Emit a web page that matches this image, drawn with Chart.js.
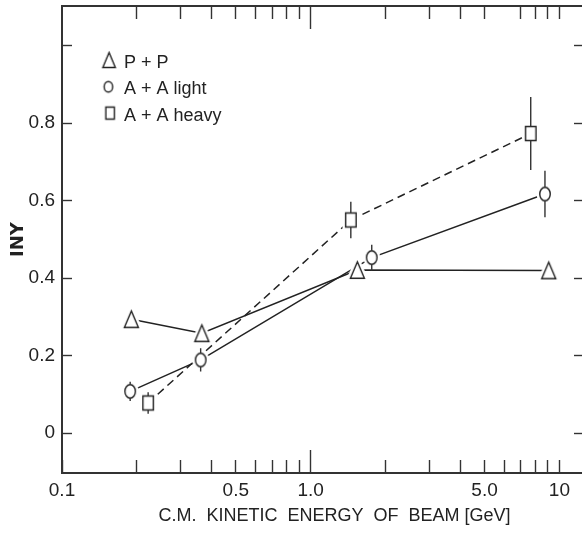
<!DOCTYPE html>
<html>
<head>
<meta charset="utf-8">
<script src="https://cdn.jsdelivr.net/npm/chart.js@4.4.1/dist/chart.umd.min.js"></script>
<style>
html,body{margin:0;padding:0;background:#fff;}
#wrap{width:582px;height:539px;position:relative;}
</style>
</head>
<body>
<div id="wrap"><canvas id="c" width="582" height="539"></canvas></div>
<script>
// ---- data ----
const seriesLabels = ['P + P', 'A + A light', 'A + A heavy'];

const ppEnergy = [0.19, 0.365, 1.54, 9.06];
const ppValue  = [0.294, 0.258, 0.421, 0.42];

const lightEnergy = [0.188, 0.361, 1.76, 8.75];
const lightValue  = [0.108, 0.189, 0.453, 0.617];
const lightError  = [0.025, 0.030, 0.033, 0.060];

const heavyEnergy = [0.222, 1.45, 7.67];
const heavyValue  = [0.078, 0.550, 0.773];
const heavyError  = [0.028, 0.047, 0.094];

const xTickValues = [0.1, 0.2, 0.3, 0.4, 0.5, 0.6, 0.7, 0.8, 0.9, 1, 2, 3, 4, 5, 6, 7, 8, 9, 10];
const xTickLabels = ['0.1', '', '', '', '0.5', '', '', '', '', '1.0', '', '', '', '5.0', '', '', '', '', '10'];
const topTickValues = [0.2, 0.3, 0.4, 0.5, 0.6, 0.7, 0.8, 0.9, 1, 2, 3, 4, 5, 7, 8, 9, 10];
const yTickValues = [0, 0.2, 0.4, 0.6, 0.8, 1.0];
const yTickLabels = ['0', '0.2', '0.4', '0.6', '0.8', ''];

const xTitle = '     C.M.  KINETIC  ENERGY  OF  BEAM [GeV]';
const yTitle = 'INY';

const X_MIN = 0.1, X_MAX = 12.33;
const Y_MIN = -0.1026, Y_MAX = 1.102;

// ---- styling helpers ----
const INK = '#222';
const AXIS = '#333';
Chart.defaults.font.family = "'Liberation Sans', Arial, sans-serif";
Chart.defaults.color = INK;

function makeMarker(shape, w, h, o) {
  o = o || {};
  const halo = o.halo || 0, dx = o.dx || 0, dy = o.dy || 0;
  const cw = o.cw || Math.ceil(w + 2 * halo + 6);
  const ch = o.ch || Math.ceil(h + 2 * halo + 6);
  const c = document.createElement('canvas');
  c.width = cw; c.height = ch;
  const g = c.getContext('2d');
  const cx = cw / 2 + dx, cy = ch / 2 + dy;
  const path = () => {
    g.beginPath();
    if (shape === 'triangle') {
      g.moveTo(cx, cy - h / 2);
      g.lineTo(cx + w / 2, cy + h / 2);
      g.lineTo(cx - w / 2, cy + h / 2);
      g.closePath();
    } else if (shape === 'circle') {
      g.ellipse(cx, cy, w / 2, h / 2, 0, 0, Math.PI * 2);
    } else {
      g.rect(cx - w / 2, cy - h / 2, w, h);
    }
  };
  if (halo) {
    path();
    g.fillStyle = '#fff'; g.fill();
    g.lineJoin = 'round';
    g.strokeStyle = '#fff'; g.lineWidth = 1.4 + 2 * halo; g.stroke();
  }
  path();
  g.fillStyle = '#fff'; g.fill();
  g.lineJoin = 'miter';
  g.strokeStyle = INK; g.lineWidth = 1.4; g.stroke();
  return c;
}

const triMarker = makeMarker('triangle', 14, 16.5, {halo: 2.5});
const circMarker = makeMarker('circle', 10.5, 13.5, {halo: 2.5});
const sqMarker = makeMarker('rect', 10.5, 14, {halo: 2.5});

const legendMarkers = [
  makeMarker('triangle', 12.5, 15, {dx: 16.4, dy: -3, cw: 54, ch: 28}),
  makeMarker('circle', 8.5, 10.5, {dx: 15.7, dy: -2.5, cw: 54, ch: 28}),
  makeMarker('rect', 8.5, 12, {dx: 17.4, dy: -2.5, cw: 54, ch: 28})
];

const pts = (xs, ys) => xs.map((v, i) => ({x: v, y: ys[i]}));

// error bars drawn through the scales
const errorBars = {
  id: 'errorBars',
  afterDatasetsDraw(chart) {
    const {ctx} = chart;
    const xs = chart.scales.x, ys = chart.scales.y;
    ctx.save();
    ctx.strokeStyle = AXIS;
    ctx.lineWidth = 1.4;
    chart.data.datasets.forEach((ds) => {
      if (!ds.errors) return;
      const half = ds.markerHalfHeight;
      ds.data.forEach((p, j) => {
        const e = ds.errors[j];
        const px = xs.getPixelForValue(p.x);
        const py = ys.getPixelForValue(p.y);
        const top = ys.getPixelForValue(p.y + e);
        const bot = ys.getPixelForValue(p.y - e);
        ctx.beginPath();
        if (top < py - half) { ctx.moveTo(px, top); ctx.lineTo(px, py - half); }
        if (bot > py + half) { ctx.moveTo(px, py + half); ctx.lineTo(px, bot); }
        ctx.stroke();
      });
    });
    ctx.restore();
  }
};

const labelFor = (vals, labels, v) => {
  const i = vals.findIndex(t => Math.abs(t - v) < 1e-9);
  return i >= 0 ? labels[i] : '';
};

const noPad = (s) => { s.paddingLeft = 0; s.paddingRight = 0; s.paddingTop = 0; s.paddingBottom = 0; };

new Chart(document.getElementById('c'), {
  type: 'line',
  data: {
    datasets: [
      {
        label: seriesLabels[0],
        data: pts(ppEnergy, ppValue),
        borderColor: INK, borderWidth: 1.5, tension: 0, fill: false,
        pointStyle: triMarker, pointRadius: 6, pointHoverRadius: 6
      },
      {
        label: seriesLabels[1],
        data: pts(lightEnergy, lightValue),
        errors: lightError, markerHalfHeight: 6.75,
        borderColor: INK, borderWidth: 1.5, tension: 0, fill: false,
        pointStyle: circMarker, pointRadius: 6, pointHoverRadius: 6
      },
      {
        label: seriesLabels[2],
        data: pts(heavyEnergy, heavyValue),
        errors: heavyError, markerHalfHeight: 7,
        borderColor: INK, borderWidth: 1.5, borderDash: [8, 5], tension: 0, fill: false,
        pointStyle: sqMarker, pointRadius: 6, pointHoverRadius: 6
      }
    ]
  },
  options: {
    responsive: false,
    animation: false,
    devicePixelRatio: 1,
    events: [],
    layout: {autoPadding: false, padding: {top: 6, right: 0, bottom: 0, left: 0}},
    scales: {
      x: {
        type: 'logarithmic', position: 'bottom', min: X_MIN, max: X_MAX,
        afterBuildTicks: (s) => { s.ticks = xTickValues.map(v => ({value: v})); },
        afterFit: (s) => { s.height = 66; noPad(s); },
        ticks: {
          autoSkip: false, maxRotation: 0, minRotation: 0, padding: 29.6,
          color: INK, font: {size: 19},
          callback: (v) => labelFor(xTickValues, xTickLabels, v)
        },
        grid: {
          drawOnChartArea: false, drawTicks: true, tickLength: -23,
          tickWidth: 1.4, tickColor: AXIS,
          tickBorderDash: (ctx) => (ctx.tick && Math.abs(ctx.tick.value - 1) < 1e-9) ? [] : [14, 100]
        },
        border: {display: true, color: AXIS, width: 2},
        title: {display: true, text: xTitle, color: INK, font: {size: 18}, padding: {top: 0, bottom: 12.2}}
      },
      xTop: {
        type: 'logarithmic', position: 'top', min: X_MIN, max: X_MAX,
        afterBuildTicks: (s) => { s.ticks = topTickValues.map(v => ({value: v})); },
        afterFit: (s) => { s.height = 0; noPad(s); },
        ticks: {display: false, autoSkip: false, maxRotation: 0, minRotation: 0},
        grid: {
          drawOnChartArea: false, drawTicks: true, tickLength: -23,
          tickWidth: 1.4, tickColor: AXIS,
          tickBorderDash: (ctx) => (ctx.tick && Math.abs(ctx.tick.value - 1) < 1e-9) ? [] : [0, 10, 14, 100]
        },
        border: {display: true, color: AXIS, width: 2}
      },
      y: {
        type: 'linear', position: 'left', min: Y_MIN, max: Y_MAX,
        afterBuildTicks: (s) => { s.ticks = yTickValues.map(v => ({value: v})); },
        afterFit: (s) => { s.width = 62; noPad(s); },
        ticks: {
          autoSkip: false, padding: 17, color: INK, font: {size: 19},
          callback: (v) => labelFor(yTickValues, yTickLabels, v)
        },
        grid: {drawOnChartArea: false, drawTicks: true, tickLength: -10, tickWidth: 1.4, tickColor: AXIS},
        border: {display: true, color: AXIS, width: 2},
        title: {display: true, text: yTitle, color: INK, font: {family: "'DejaVu Sans', sans-serif", size: 18, weight: 'bold'}, padding: {top: 7.2, bottom: 0}}
      },
      yRight: {
        type: 'linear', position: 'right', min: Y_MIN, max: Y_MAX,
        afterBuildTicks: (s) => { s.ticks = yTickValues.map(v => ({value: v})); },
        afterFit: (s) => { s.width = 0; noPad(s); },
        ticks: {display: false},
        grid: {drawOnChartArea: false, drawTicks: true, tickLength: -8, tickWidth: 1.4, tickColor: AXIS},
        border: {display: false}
      }
    },
    plugins: {
      tooltip: {enabled: false},
      legend: {
        display: true, position: 'chartArea', align: 'start',
        title: {display: true, text: '', font: {size: 1}, padding: {top: 44.5, bottom: 0}},
        labels: {
          usePointStyle: true, pointStyleWidth: 44.7, padding: 8.3,
          color: INK, font: {size: 18},
          generateLabels: (chart) => chart.data.datasets.map((ds, i) => ({
            text: ds.label, pointStyle: legendMarkers[i], datasetIndex: i,
            hidden: false, lineWidth: 0, fillStyle: '#fff', strokeStyle: INK, fontColor: INK
          }))
        }
      }
    }
  },
  plugins: [errorBars]
});
</script>
</body>
</html>
